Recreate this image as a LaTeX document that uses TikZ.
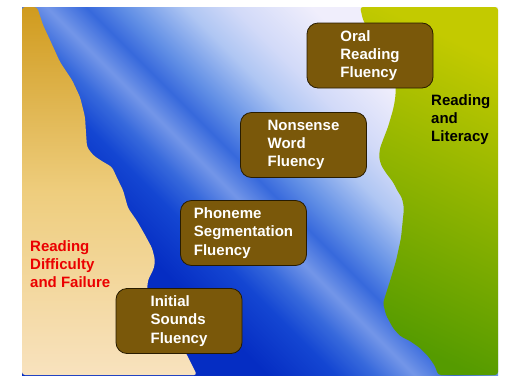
\documentclass[tikz,border=0pt]{standalone}
\usepackage{fontspec}
\setmainfont{Liberation Sans}
\usepackage{tikz}

\definecolor{riverdeep}{RGB}{5,45,195}
\definecolor{riverdark}{RGB}{20,70,210}
\definecolor{rivermid}{RGB}{55,105,220}
\definecolor{riverstripe}{RGB}{115,150,232}
\definecolor{riverband}{RGB}{100,145,230}
\definecolor{riverlight}{RGB}{175,198,243}
\definecolor{riverpale}{RGB}{210,218,248}
\definecolor{riverwhite}{RGB}{240,238,252}
\definecolor{tantop}{RGB}{208,155,30}
\definecolor{tanmid}{RGB}{238,205,125}
\definecolor{tanbottom}{RGB}{248,226,190}
\definecolor{greentop}{RGB}{195,202,0}
\definecolor{greenbottom}{RGB}{85,155,0}
\definecolor{boxfill}{RGB}{122,88,10}
\definecolor{boxline}{RGB}{40,28,0}
\definecolor{failred}{RGB}{235,0,0}

\pgfdeclarehorizontalshading{river}{100bp}{color(0bp)=(riverdeep); color(41bp)=(riverdeep);
  color(44.5bp)=(riverdark); color(46.5bp)=(rivermid); color(48.5bp)=(riverstripe);
  color(50.5bp)=(rivermid); color(52.5bp)=(riverband); color(55.5bp)=(riverlight);
  color(58bp)=(riverpale); color(62bp)=(riverwhite); color(100bp)=(riverwhite)}

\begin{document}
\begin{tikzpicture}[x=1pt,y=-1pt,
    fluencybox/.style={draw=boxline, line width=0.8pt, fill=boxfill, rounded corners=11pt,
      minimum width=126pt, minimum height=65pt, inner sep=0pt, align=left, text=white,
      font=\bfseries\fontsize{15}{18.3}\selectfont},
    sidelabel/.style={anchor=north west, inner sep=0pt, align=left,
      font=\bfseries\fontsize{15}{18.3}\selectfont}]
    \useasboundingbox (0,0) rectangle (506,375);

    % Draw the river
    \begin{scope}
      \clip (22,7) rectangle (498,375);
      \shade [shading=river, shading angle=45] (-90,-159) rectangle (610,541);
    \end{scope}

    % Draw the left bank (difficulty)
    \shade [top color=tantop, bottom color=tanbottom, middle color=tanmid, rounded corners=3pt]
      (22,7) -- (37,7) -- (43,25) -- (50,40) -- (60,62) -- (72,80) -- (80,97) -- (85,117)
      -- (86,133) -- (87,147) -- (93,155) -- (100,160) -- (112,167) -- (118,180) -- (123,190)
      -- (128,208) -- (137,221) -- (145,235) -- (152,248) -- (155,260) -- (154,268)
      -- (148,280) -- (147,290) -- (165,320) -- (187,355) -- (197,375) -- (22,375) -- cycle;

    % Draw the right bank (literacy)
    \shade [top color=greentop, bottom color=greenbottom, shading angle=-25, rounded corners=3pt]
      (498,7) -- (360,7) -- (363,20) -- (380,50) -- (396,88) -- (395,100) -- (393,110)
      -- (388,127) -- (383,140) -- (380,148) -- (379,157) -- (381,165) -- (386,173)
      -- (393,182) -- (397,190) -- (402,198) -- (404,208) -- (401,238) -- (396,261)
      -- (390,281) -- (383,303) -- (386,315) -- (393,328) -- (400,336) -- (410,341)
      -- (420,348) -- (428,356) -- (435,366) -- (438,375) -- (498,375) -- cycle;

    % Labels of the two banks
    \node [sidelabel, text=failred] (failure) at (30,240) {Reading\\Difficulty\\and Failure};
    \node [sidelabel, text=black] (literacy) at (431,94) {Reading\\and\\Literacy};

    % The fluency steps across the river
    \node [fluencybox] (orf) at (370,55.5) {Oral\\Reading\\Fluency};
    \node [fluencybox] (nwf) at (303.5,145) {Nonsense\\Word\\Fluency};
    \node [fluencybox] (psf) at (243.5,233) {Phoneme\\Segmentation\\Fluency};
    \node [fluencybox] (isf) at (179,321) {Initial\\Sounds\\Fluency};

\end{tikzpicture}
\end{document}
